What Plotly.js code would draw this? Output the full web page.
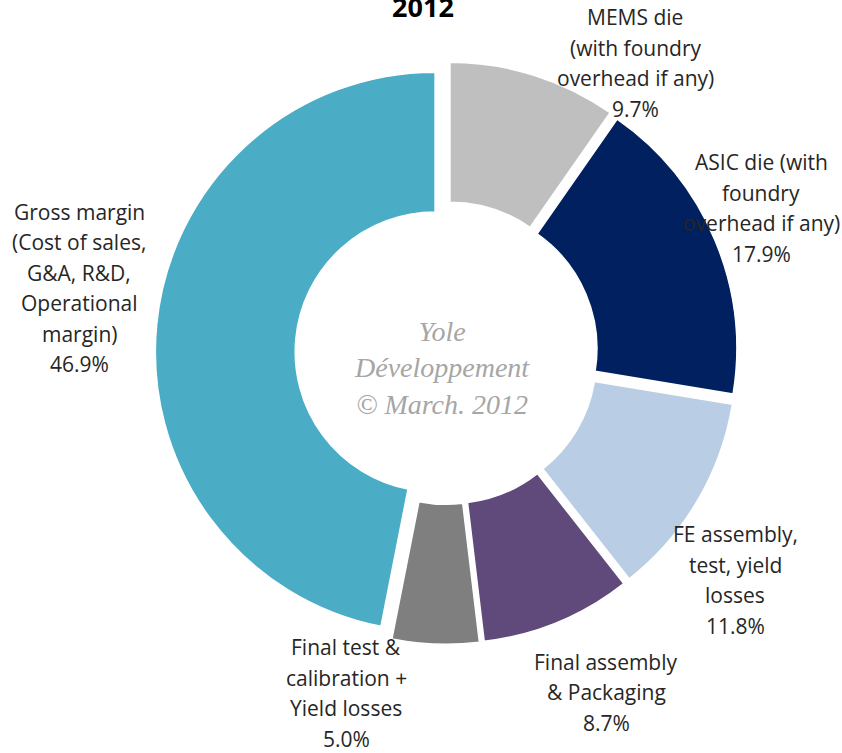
<!DOCTYPE html>
<html>
<head>
<meta charset="utf-8">
<script src="https://cdn.plot.ly/plotly-3.0.1.min.js"></script>
<style>html,body{margin:0;padding:0;background:#fff;}#chart{width:842px;height:753px;}</style>
</head>
<body>
<div id="chart"></div>
<script>
// Data
const categories = [
  "MEMS die<br>(with foundry<br>overhead if any)",
  "ASIC die (with<br>foundry<br>overhead if any)",
  "FE assembly,<br>test, yield<br>losses",
  "Final assembly<br>& Packaging",
  "Final test &<br>calibration +<br>Yield losses",
  "Gross margin<br>(Cost of sales,<br>G&A, R&D,<br>Operational<br>margin)"
];
const shares = [9.7, 17.9, 11.8, 8.7, 5.0, 46.9];
const titleText = "2012";
const centerText = "Yole<br>Développement<br>© March. 2012";

// Styles
const colors = ["#BFBFBF", "#002060", "#B9CDE5", "#604A7B", "#7F7F7F", "#4BACC6"];
// label block centres in pixels (x, y)
const labelPos = [[635, 63], [761, 208], [735, 580], [606, 692], [346, 693], [79, 288]];
const W = 842, H = 753, lineH = 30.5;

const annotations = [];
categories.forEach((c, i) => {
  const lines = c.split("<br>").concat([shares[i].toFixed(1) + "%"]);
  const n = lines.length;
  lines.forEach((ln, k) => {
    const py = labelPos[i][1] + (k - (n - 1) / 2) * lineH;
    annotations.push({
      text: ln, xref: "paper", yref: "paper",
      x: labelPos[i][0] / W, y: 1 - py / H,
      xanchor: "center", yanchor: "middle", showarrow: false,
      font: {family: "Open Sans", size: 21, color: "#262626"}
    });
  });
});
annotations.push({
  text: centerText, xref: "paper", yref: "paper",
  x: 442 / W, y: 1 - 368 / H, xanchor: "center", yanchor: "middle",
  showarrow: false,
  font: {family: "Liberation Serif", size: 28, color: "#A6A6A6", style: "italic"}
});

const trace = {
  type: "pie",
  labels: categories,
  values: shares,
  sort: false,
  direction: "clockwise",
  rotation: 0,
  hole: 0.5,
  pull: shares.map(() => 0.041),
  marker: {colors: colors, line: {color: "#FFFFFF", width: 1.5}},
  textinfo: "none",
  hoverinfo: "label+percent",
  domain: {x: [155.3 / W, 737.7 / W], y: [1 - 644.2 / H, 1 - 61.8 / H]}
};

const layout = {
  width: W, height: H,
  margin: {l: 0, r: 0, t: 0, b: 0},
  paper_bgcolor: "#FFFFFF",
  showlegend: false,
  title: {
    text: "<b>" + titleText + "</b>",
    x: 423 / W, xanchor: "center",
    y: 1 - 8 / H, yanchor: "middle", yref: "paper",
    font: {family: "Open Sans", size: 27, color: "#000000"}
  },
  annotations: annotations
};

Plotly.newPlot("chart", [trace], layout, {displayModeBar: false, staticPlot: true});
</script>
</body>
</html>
